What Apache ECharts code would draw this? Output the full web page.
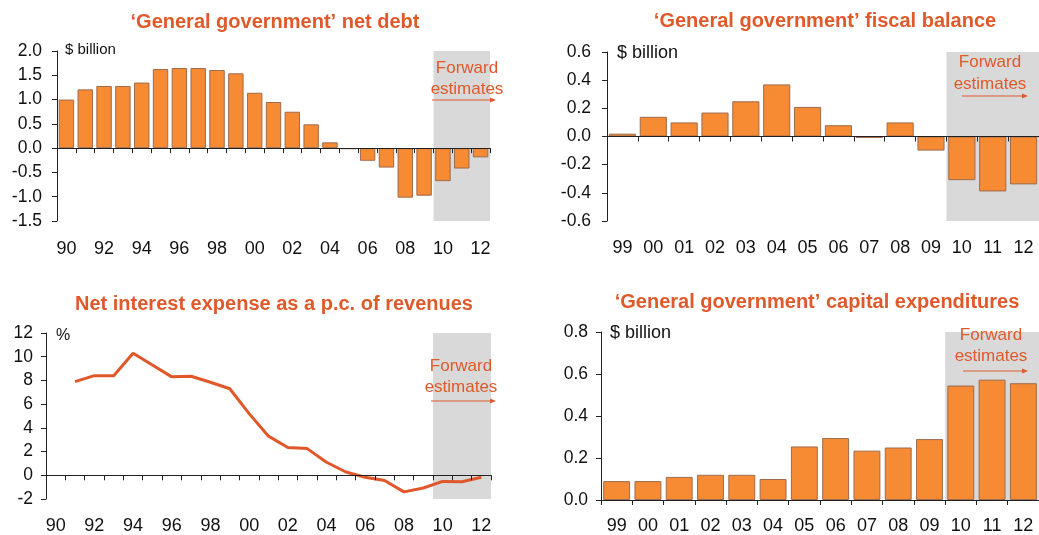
<!DOCTYPE html>
<html>
<head>
<meta charset="utf-8">
<script src="https://cdn.jsdelivr.net/npm/echarts@6/dist/echarts.min.js"></script>
<style>
  html, body { margin: 0; padding: 0; background: #fff; }
  #chart { width: 1039px; height: 535px; }
</style>
</head>
<body>
<div id="chart"></div>
<script>
// Year categories (two-digit labels)
const yearsLong = ['90','91','92','93','94','95','96','97','98','99','00','01','02','03','04','05','06','07','08','09','10','11','12'];
const yearsShort = ['99','00','01','02','03','04','05','06','07','08','09','10','11','12'];

// 'General government' net debt, $ billion (1990-2012)
const netDebt = [1.00, 1.21, 1.28, 1.28, 1.35, 1.63, 1.65, 1.65, 1.61, 1.54, 1.14, 0.95, 0.75, 0.49, 0.12, -0.02, -0.26, -0.40, -1.02, -0.98, -0.68, -0.42, -0.19];

// 'General government' fiscal balance, $ billion (1999-2012)
const fiscalBalance = [0.02, 0.14, 0.10, 0.17, 0.25, 0.37, 0.21, 0.08, -0.01, 0.10, -0.10, -0.31, -0.39, -0.34];

// Net interest expense as % of revenues (1990-2012; no value for 1990)
const interestPct = [null, 7.9, 8.4, 8.4, 10.3, 9.3, 8.3, 8.35, 7.85, 7.3, 5.2, 3.3, 2.35, 2.25, 1.1, 0.28, -0.17, -0.44, -1.4, -1.07, -0.52, -0.55, -0.17];

// 'General government' capital expenditures, $ billion (1999-2012)
const capex = [0.09, 0.09, 0.11, 0.12, 0.12, 0.10, 0.255, 0.295, 0.235, 0.25, 0.29, 0.545, 0.573, 0.556];

// First forward-estimate year in each category list
const forwardStartLong = yearsLong.indexOf('10');
const forwardStartShort = yearsShort.indexOf('10');

const ORANGE = '#F68B34';
const BAR_BORDER = '#9C6B4E';
const TITLE = '#E0592A';
const SHADE = '#D9D9D9';
const AXIS = '#222';
const FONT = '"Liberation Sans", Arial, sans-serif';

const chart = echarts.init(document.getElementById('chart'), null, { renderer: 'canvas' });

const grids = [
  { left: 57, top: 51, width: 433, height: 170 },
  { left: 607, top: 52, width: 432, height: 169 },
  { left: 46, top: 333, width: 445, height: 170 },
  { left: 601, top: 332, width: 438, height: 170 }
];

const panels = [
  { cats: yearsLong, min: -1.5, max: 2.0, interval: 0.5, fmt: v => v.toFixed(1), labelInterval: 1, yMargin: 15, xMargin: 19, forward: forwardStartLong },
  { cats: yearsShort, min: -0.6, max: 0.6, interval: 0.2, fmt: v => v.toFixed(1), labelInterval: 0, yMargin: 16, xMargin: 18, forward: forwardStartShort },
  { cats: yearsLong, min: -2, max: 12, interval: 2, fmt: v => String(v), labelInterval: 1, yMargin: 13, xMargin: 18, forward: forwardStartLong },
  { cats: yearsShort, min: 0, max: 0.8, interval: 0.2, fmt: v => v.toFixed(1), labelInterval: 0, yMargin: 13, xMargin: 17, forward: forwardStartShort }
];

const xAxes = [];
const yAxes = [];
const series = [];

panels.forEach((p, i) => {
  // axis line on zero with ticks between categories
  xAxes.push({
    type: 'category', gridIndex: i, data: p.cats, boundaryGap: true, z: 5,
    axisLine: { onZero: true, lineStyle: { color: AXIS, width: 1 } },
    axisTick: { show: true, alignWithLabel: false, interval: 0, length: 5, lineStyle: { color: AXIS } },
    axisLabel: { show: false }, splitLine: { show: false }
  });
  // year labels along the bottom of the plot
  xAxes.push({
    type: 'category', gridIndex: i, data: p.cats, position: 'bottom',
    axisLine: { show: false, onZero: false }, axisTick: { show: false },
    axisLabel: { interval: p.labelInterval, margin: p.xMargin, color: '#111', fontSize: 18, fontFamily: FONT },
    splitLine: { show: false }
  });
  // index scale used for the forward-estimates band
  xAxes.push({
    type: 'value', gridIndex: i, min: 0, max: p.cats.length, show: false,
    splitLine: { show: false }
  });
  yAxes.push({
    type: 'value', gridIndex: i, min: p.min, max: p.max, interval: p.interval, z: 5,
    axisLine: { show: true, lineStyle: { color: AXIS, width: 1 } },
    axisTick: { show: true, length: 5, lineStyle: { color: AXIS } },
    axisLabel: { formatter: p.fmt, margin: p.yMargin, color: '#111', fontSize: 17.5, fontFamily: FONT },
    splitLine: { show: false }
  });
  series.push({
    type: 'scatter', xAxisIndex: i * 3 + 2, yAxisIndex: i, data: [], silent: true, z: -1,
    markArea: {
      silent: true,
      itemStyle: { color: SHADE },
      data: [[{ xAxis: p.forward, yAxis: p.min }, { xAxis: p.cats.length, yAxis: p.max }]]
    }
  });
});

function barSeries(idx, data, gap) {
  return {
    type: 'bar', xAxisIndex: idx * 3, yAxisIndex: idx, data: data, z: 2,
    barCategoryGap: gap,
    itemStyle: { color: ORANGE, borderColor: BAR_BORDER, borderWidth: 1 },
    silent: true
  };
}

series.push(barSeries(0, netDebt, '18%'));
series.push(barSeries(1, fiscalBalance, '12%'));
series.push({
  type: 'line', xAxisIndex: 6, yAxisIndex: 2, data: interestPct, z: 2,
  symbol: 'none', smooth: false,
  lineStyle: { color: '#E0582A', width: 3 }, silent: true
});
series.push(barSeries(3, capex, '14%'));

function titleText(x, y, text) {
  return { type: 'text', x: x, y: y, style: { text: text, fill: TITLE, font: 'bold 20px ' + FONT, textAlign: 'center', textVerticalAlign: 'middle' } };
}
function plainText(x, y, text, size, color) {
  return { type: 'text', x: x, y: y, style: { text: text, fill: color, font: size + 'px ' + FONT, textAlign: 'left', textVerticalAlign: 'middle' } };
}
function forwardNote(cx, y1, y2, ya, xa1, xa2) {
  return [
    { type: 'text', x: cx, y: y1, z: 10, style: { text: 'Forward', fill: TITLE, font: '17px ' + FONT, textAlign: 'center', textVerticalAlign: 'middle' } },
    { type: 'text', x: cx, y: y2, z: 10, style: { text: 'estimates', fill: TITLE, font: '17px ' + FONT, textAlign: 'center', textVerticalAlign: 'middle' } },
    { type: 'line', z: 10, shape: { x1: xa1, y1: ya, x2: xa2 - 4, y2: ya }, style: { stroke: TITLE, lineWidth: 1.2 } },
    { type: 'polygon', z: 10, shape: { points: [[xa2, ya], [xa2 - 6, ya - 2.5], [xa2 - 6, ya + 2.5]] }, style: { fill: TITLE } }
  ];
}

const graphics = [
  titleText(275, 22, '\u2018General government\u2019 net debt'),
  titleText(825, 21, '\u2018General government\u2019 fiscal balance'),
  titleText(274, 304, 'Net interest expense as a p.c. of revenues'),
  titleText(817, 302, '\u2018General government\u2019 capital expenditures'),
  plainText(65, 50, '$ billion', 15, '#111'),
  plainText(617, 53, '$ billion', 18, '#111'),
  plainText(56, 336, '%', 16, '#111'),
  plainText(610, 333, '$ billion', 18, '#111')
].concat(
  forwardNote(467, 68, 89, 100, 432, 496),
  forwardNote(990, 62, 84, 96, 962, 1028),
  forwardNote(461, 366, 387, 401, 431, 496),
  forwardNote(991, 335, 356, 371, 963, 1028)
);

chart.setOption({
  backgroundColor: '#fff',
  animation: false,
  textStyle: { fontFamily: FONT },
  grid: grids,
  xAxis: xAxes,
  yAxis: yAxes,
  series: series,
  graphic: graphics
});
</script>
</body>
</html>
